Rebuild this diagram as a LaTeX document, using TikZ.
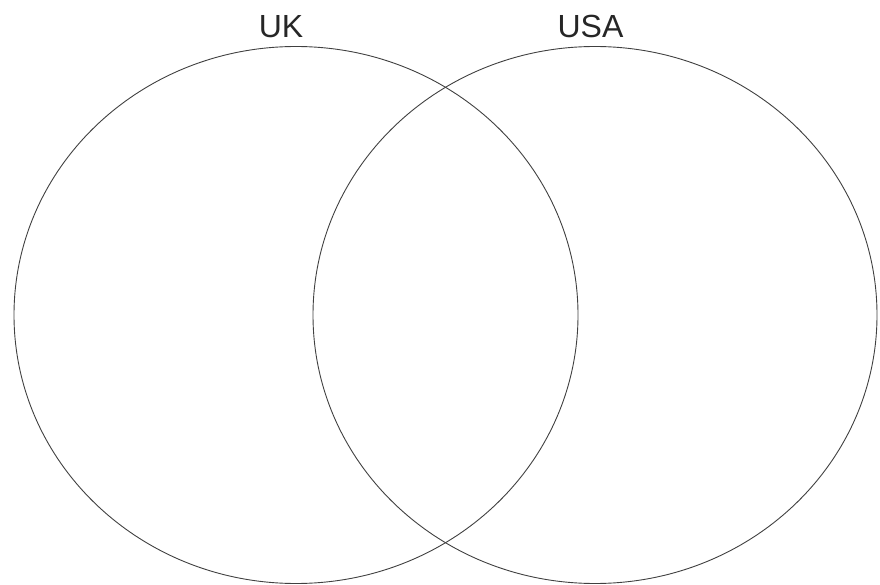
\documentclass[tikz,border=0pt]{standalone}
\usepackage{fontspec}
\setmainfont{Liberation Sans}
\usetikzlibrary{shapes.geometric}
\begin{document}
\begin{tikzpicture}[x=1pt,y=-1pt,
  setellipse/.style={ellipse, draw=black!75, line width=0.9pt, minimum width=564pt, minimum height=537pt, inner sep=0pt},
  setlabel/.style={font=\fontsize{32}{36}\selectfont, text=black!85, anchor=base, inner sep=0pt}]
\useasboundingbox (0,0) rectangle (880,585);
\node[setellipse] (uk) at (296,315) {};
\node[setellipse] (usa) at (595,315) {};
\node[setlabel] (uklabel) at (281,38) {UK};
\node[setlabel] (usalabel) at (590.5,38) {USA};
\end{tikzpicture}
\end{document}
